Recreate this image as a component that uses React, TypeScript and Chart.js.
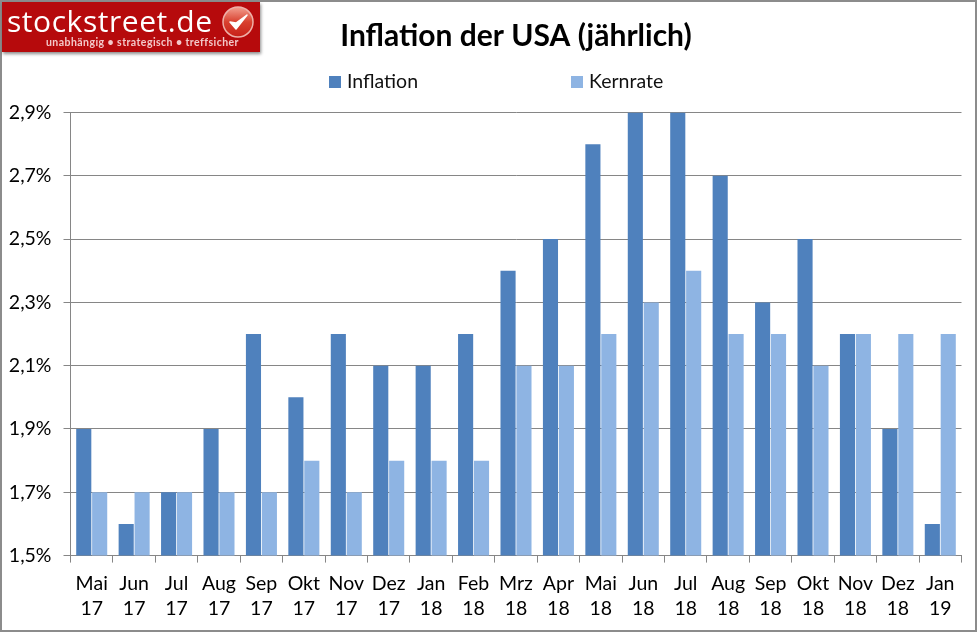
import React, { useEffect, useRef } from "react";
import { Chart, registerables } from "chart.js";

Chart.register(...registerables);

const MONTHS = ["Mai","Jun","Jul","Aug","Sep","Okt","Nov","Dez","Jan","Feb","Mrz","Apr","Mai","Jun","Jul","Aug","Sep","Okt","Nov","Dez","Jan"];
const YEARS = ["17","17","17","17","17","17","17","17","18","18","18","18","18","18","18","18","18","18","18","18","19"];
const INFLATION = [1.9,1.6,1.7,1.9,2.2,2.0,2.2,2.1,2.1,2.2,2.4,2.5,2.8,2.9,2.9,2.7,2.3,2.5,2.2,1.9,1.6];
const KERNRATE = [1.7,1.7,1.7,1.7,1.7,1.8,1.7,1.8,1.8,1.8,2.1,2.1,2.2,2.3,2.4,2.2,2.2,2.1,2.2,2.2,2.2];
const TITLE = "Inflation der USA (jährlich)";
const FONT = "Lato, 'Noto Sans', sans-serif";
const AXIS = "#868686";
const LEGEND_X = [329, 571];

const wideLegend = {
  id: "wideLegend",
  afterDraw(chart: any) {
    const ctx = chart.ctx;
    ctx.save();
    ctx.font = `19.5px ${FONT}`;
    ctx.textBaseline = "middle";
    ctx.textAlign = "left";
    chart.data.datasets.forEach((d: any, i: number) => {
      ctx.fillStyle = d.backgroundColor;
      ctx.fillRect(LEGEND_X[i], 76, 12, 12);
      ctx.fillStyle = "#111";
      ctx.fillText(d.label, LEGEND_X[i] + 18, 82);
    });
    ctx.restore();
  },
};

export default function App() {
  const ref = useRef<HTMLCanvasElement | null>(null);
  useEffect(() => {
    const chart = new Chart(ref.current!, {
      type: "bar",
      data: {
        labels: MONTHS.map((m, i) => [m, YEARS[i]]),
        datasets: [
          { label: "Inflation", data: INFLATION, backgroundColor: "#4F81BD", categoryPercentage: 0.75, barPercentage: 0.95 },
          { label: "Kernrate", data: KERNRATE, backgroundColor: "#8EB4E3", categoryPercentage: 0.75, barPercentage: 0.95 },
        ],
      },
      plugins: [wideLegend],
      options: {
        animation: false,
        responsive: false,
        layout: { padding: { left: 0, right: 15.5, top: 0, bottom: 1.5 } },
        plugins: {
          tooltip: { enabled: false },
          legend: { display: false },
          title: {
            display: true, text: TITLE, fullSize: false, color: "#000",
            font: { family: FONT, size: 30, weight: "bold" },
            padding: { top: 18, bottom: 58.5 },
          },
        },
        scales: {
          x: {
            grid: { drawOnChartArea: false, offset: true, color: AXIS, tickLength: 7, tickColor: AXIS },
            border: { color: AXIS },
            ticks: { color: "#000", font: { family: FONT, size: 19.5, lineHeight: 1.28 }, maxRotation: 0, autoSkip: false, padding: 9 },
          },
          y: {
            min: 1.5, max: 2.9,
            afterFit: (s: any) => { s.width = 70.5; },
            grid: { color: AXIS, tickLength: 7, tickColor: AXIS },
            border: { color: AXIS },
            ticks: {
              stepSize: 0.2, color: "#000", padding: 12,
              font: { family: FONT, size: 19.5 },
              callback: (v: any) => Number(v).toFixed(1).replace(".", ",") + "%",
            },
          },
        },
      },
    });
    return () => chart.destroy();
  }, []);

  return (
    <div style={{ position: "relative", width: 977, height: 632, overflow: "hidden", background: "#fff" }}>
      <style>{`html,body{margin:0;padding:0;overflow:hidden}`}</style>
      <canvas ref={ref} width={977} height={632} style={{ display: "block" }} />
      <div style={{ position: "absolute", left: 0, top: 0, width: 977, height: 632, border: "2px solid #8c8c8c", boxSizing: "border-box", pointerEvents: "none" }} />
      <div style={{ position: "absolute", left: 2, top: 2, width: 258, height: 50, background: "#B60A0C", boxShadow: "1px 2px 3px rgba(0,0,0,.45)", color: "#fff" }}>
        <div style={{ position: "absolute", left: 5, top: -2, fontFamily: "'Open Sans', sans-serif", fontSize: 30, letterSpacing: 0.55, lineHeight: "42px", whiteSpace: "nowrap" }}>stockstreet.de</div>
        <div style={{ position: "absolute", left: 44, top: 33, fontFamily: "Lato, sans-serif", fontWeight: 700, fontSize: 10.5, color: "#f3c9c9", letterSpacing: 0.45, lineHeight: "14px", whiteSpace: "nowrap" }}>unabhängig • strategisch • treffsicher</div>
        <svg style={{ position: "absolute", left: 219, top: 3 }} width="34" height="34" viewBox="0 0 34 34">
          <defs>
            <linearGradient id="g" x1="0" y1="0" x2="0" y2="1">
              <stop offset="0" stopColor="#f3a090" />
              <stop offset="0.5" stopColor="#d8402f" />
              <stop offset="1" stopColor="#c72018" />
            </linearGradient>
          </defs>
          <circle cx="17" cy="17" r="15" fill="url(#g)" stroke="#eeb0a8" strokeWidth="1.5" />
          <path d="M9 17 l6 7 l11 -14 l-11 8 z" fill="#fff" stroke="#fff" strokeWidth="1.5" strokeLinejoin="round" />
        </svg>
      </div>
    </div>
  );
}
